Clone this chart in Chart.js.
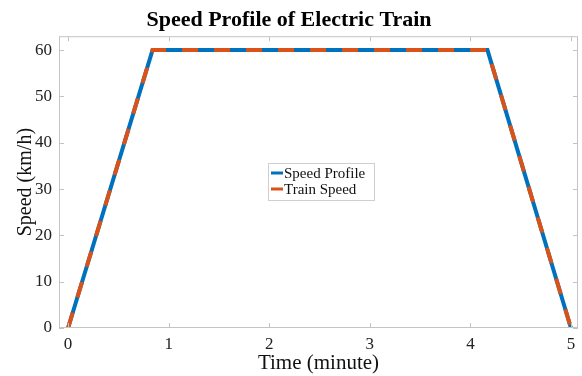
<!DOCTYPE html>
<html>
<head>
<meta charset="utf-8">
<script src="https://cdn.jsdelivr.net/npm/chart.js@4.4.1/dist/chart.umd.min.js"></script>
<style>
  html, body { margin: 0; padding: 0; background: #fff; }
  canvas { display: block; }
</style>
</head>
<body>
<canvas id="speedChart" width="582" height="376"></canvas>
<script>
// Data
const timeMin = [0, 0.84, 4.17, 5];
const profileSpeed = [0, 60, 60, 0];
const trainSpeed = [0, 60, 60, 0];
const xTicks = [0, 1, 2, 3, 4, 5];
const yTicks = [0, 10, 20, 30, 40, 50, 60];
const seriesNames = ['Speed Profile', 'Train Speed'];

const SERIF = '"Liberation Serif", "Times New Roman", serif';
const BLUE = '#0072BD';
const ORANGE = '#D95319';
const FRAME = '#c4c4c4';

function toPoints(xs, ys) {
    return xs.map((x, i) => ({ x: x, y: ys[i] }));
}

// box around the plot + inward tick marks on all four sides
const framePlugin = {
    id: 'frame',
    afterDraw(chart) {
        const { ctx, chartArea: a, scales } = chart;
        ctx.save();
        ctx.strokeStyle = FRAME;
        ctx.lineWidth = 1;
        ctx.strokeRect(a.left + 0.5, a.top + 0.5, a.right - a.left - 1, a.bottom - a.top - 1);
        ctx.beginPath();
        xTicks.forEach(v => {
            const px = Math.round(scales.x.getPixelForValue(v)) + 0.5;
            ctx.moveTo(px, a.bottom); ctx.lineTo(px, a.bottom - 5);
            ctx.moveTo(px, a.top); ctx.lineTo(px, a.top + 5);
        });
        yTicks.forEach(v => {
            const py = Math.round(scales.y.getPixelForValue(v)) + 0.5;
            ctx.moveTo(a.left, py); ctx.lineTo(a.left + 5, py);
            ctx.moveTo(a.right, py); ctx.lineTo(a.right - 5, py);
        });
        ctx.stroke();
        ctx.restore();
    }
};

// legend box in the middle of the plot
const boxLegend = {
    id: 'boxLegend',
    afterDraw(chart) {
        const { ctx } = chart;
        const x0 = 268, y0 = 163, w = 106, h = 37;
        ctx.save();
        ctx.fillStyle = '#fff';
        ctx.fillRect(x0, y0, w, h);
        ctx.strokeStyle = '#cfcfcf';
        ctx.lineWidth = 1;
        ctx.strokeRect(x0 + 0.5, y0 + 0.5, w, h);
        ctx.font = '15px ' + SERIF;
        ctx.textBaseline = 'middle';
        ctx.fillStyle = '#111';
        chart.data.datasets.forEach((ds, i) => {
            const y = y0 + 10 + i * 16;
            ctx.strokeStyle = ds.borderColor;
            ctx.lineWidth = 3;
            ctx.beginPath();
            ctx.moveTo(x0 + 3, y);
            ctx.lineTo(x0 + 15, y);
            ctx.stroke();
            ctx.fillText(ds.label, x0 + 16, y + 1);
        });
        ctx.restore();
    }
};

const ctx = document.getElementById('speedChart').getContext('2d');
new Chart(ctx, {
    type: 'line',
    data: {
        datasets: [
            {
                label: seriesNames[0],
                data: toPoints(timeMin, profileSpeed),
                borderColor: BLUE,
                borderWidth: 4,
                pointRadius: 0,
                tension: 0,
                order: 1
            },
            {
                label: seriesNames[1],
                data: toPoints(timeMin, trainSpeed),
                borderColor: ORANGE,
                borderWidth: 4,
                borderDash: [16, 16],
                pointRadius: 0,
                tension: 0,
                order: 0
            }
        ]
    },
    options: {
        responsive: false,
        animation: false,
        layout: { padding: { left: 0, right: 4, top: 0, bottom: 0 } },
        plugins: {
            legend: { display: false },
            tooltip: { enabled: false },
            title: {
                display: true,
                text: 'Speed Profile of Electric Train',
                color: '#000',
                font: { family: SERIF, size: 22, weight: 'bold', lineHeight: 1.1 },
                padding: { top: 8, bottom: 4 }
            }
        },
        scales: {
            x: {
                type: 'linear',
                min: -0.09,
                max: 5.07,
                afterBuildTicks: s => { s.ticks = xTicks.map(v => ({ value: v })); },
                afterFit: s => { s.height = 48; },
                grid: { display: false, drawTicks: false },
                border: { display: false },
                ticks: { color: '#222', padding: 6, font: { family: SERIF, size: 17 } },
                title: {
                    display: true,
                    text: 'Time (minute)',
                    color: '#111',
                    font: { family: SERIF, size: 21 },
                    padding: { top: 0, bottom: 0 }
                }
            },
            y: {
                min: 0,
                max: 63,
                afterBuildTicks: s => { s.ticks = yTicks.map(v => ({ value: v })); },
                afterFit: s => { s.width = 59; },
                grid: { display: false, drawTicks: false },
                border: { display: false },
                ticks: { color: '#222', padding: 7, font: { family: SERIF, size: 17 } },
                title: {
                    display: true,
                    text: 'Speed (km/h)',
                    color: '#111',
                    font: { family: SERIF, size: 20 },
                    padding: { top: 14, bottom: 0 }
                }
            }
        }
    },
    plugins: [framePlugin, boxLegend]
});
</script>
</body>
</html>
